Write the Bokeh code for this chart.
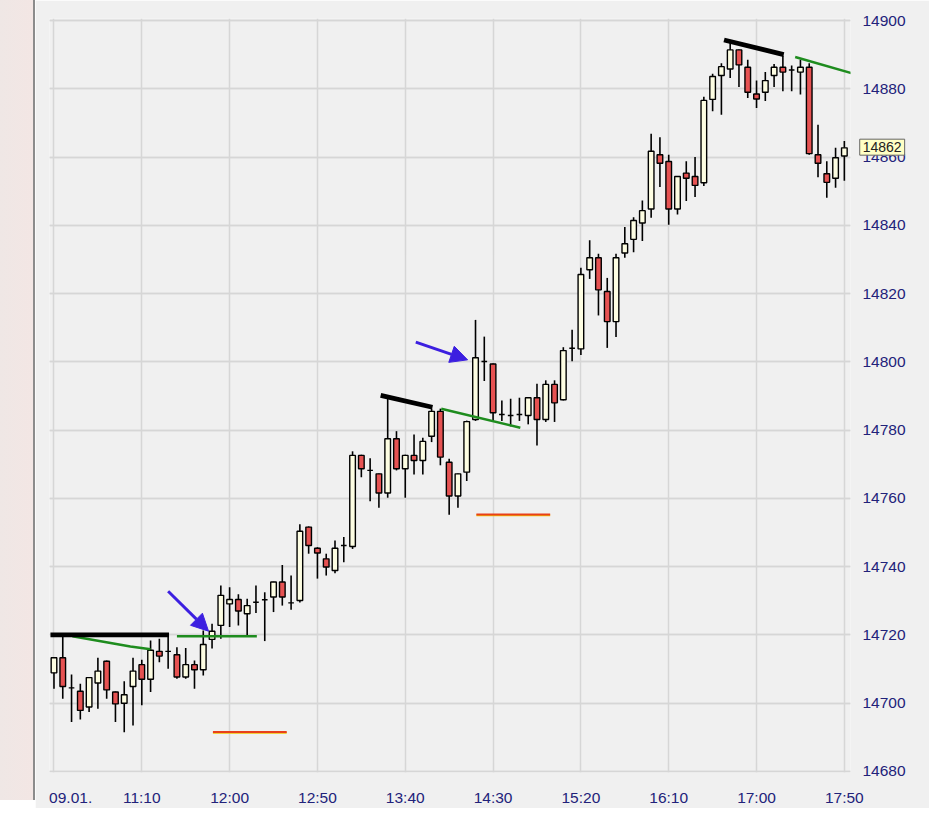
from bokeh.plotting import figure
from bokeh.models import (ColumnDataSource, FixedTicker, LinearAxis, Range1d, Arrow,
                          NormalHead, Label, Spacer, Grid)
from bokeh.layouts import row
from bokeh.embed import file_html
from bokeh.resources import INLINE

# ---- data (5-minute candles) ----
opens = [14708.9, 14713.3, 14704.5, 14703.5, 14698.9, 14705.9, 14712.3, 14703.3, 14700.0, 14704.9,
         14711.3, 14707.0, 14715.2, 14715.2, 14714.2, 14707.7, 14711.3, 14709.8, 14718.7, 14722.8,
         14729.1, 14730.4, 14726.2, 14729.6, 14730.3, 14731.1, 14735.5, 14729.4, 14730.1, 14751.6,
         14745.4, 14742.3, 14738.9, 14746.2, 14745.9, 14772.6, 14768.2, 14767.2, 14761.6, 14777.5,
         14768.7, 14772.6, 14771.1, 14778.2, 14785.5, 14770.6, 14760.7, 14767.7, 14783.1, 14800.1,
         14799.4, 14784.6, 14784.3, 14784.6, 14784.3, 14789.5, 14783.1, 14793.4, 14788.9, 14804.0,
         14803.8, 14827.0, 14830.5, 14820.6, 14811.8, 14831.9, 14835.9, 14840.7, 14844.8, 14860.7,
         14858.7, 14844.8, 14855.3, 14854.3, 14852.5, 14876.9, 14883.9, 14885.8, 14891.4, 14886.3,
         14878.5, 14879.0, 14883.9, 14886.3, 14885.5, 14884.9, 14886.3, 14860.7, 14855.1, 14853.8,
         14860.3]
highs = [14713.5, 14719.4, 14708.4, 14705.7, 14707.7, 14713.3, 14712.5, 14703.4, 14706.4, 14713.3,
         14712.7, 14718.4, 14718.9, 14719.4, 14716.4, 14716.2, 14712.5, 14721.3, 14723.3, 14734.5,
         14734.0, 14731.9, 14730.6, 14734.5, 14732.5, 14735.6, 14740.5, 14737.4, 14752.4, 14751.8,
         14745.7, 14743.8, 14747.7, 14748.7, 14773.8, 14772.8, 14771.8, 14767.3, 14789.2, 14779.7,
         14772.8, 14778.7, 14777.8, 14786.3, 14786.3, 14771.6, 14767.3, 14782.8, 14812.3, 14807.4,
         14799.5, 14788.7, 14789.2, 14789.5, 14789.6, 14793.6, 14794.6, 14794.6, 14804.3, 14809.4,
         14827.6, 14835.6, 14831.7, 14824.6, 14831.7, 14839.5, 14842.4, 14847.3, 14866.8, 14865.8,
         14860.7, 14854.4, 14858.8, 14860.0, 14877.7, 14884.4, 14887.5, 14893.9, 14891.5, 14888.5,
         14882.4, 14884.9, 14887.3, 14889.7, 14886.8, 14888.5, 14887.5, 14869.5, 14858.8, 14862.7,
         14864.7]
lows = [14704.2, 14701.3, 14694.5, 14695.2, 14697.4, 14698.4, 14701.3, 14694.5, 14691.5, 14693.5,
        14699.4, 14703.3, 14712.0, 14710.1, 14707.2, 14707.2, 14704.2, 14708.1, 14716.0, 14718.9,
        14722.3, 14722.8, 14719.9, 14726.4, 14718.2, 14726.7, 14728.6, 14727.4, 14729.5, 14743.8,
        14736.5, 14737.4, 14738.1, 14741.3, 14745.2, 14766.2, 14759.2, 14757.3, 14760.2, 14768.2,
        14760.2, 14767.0, 14767.0, 14776.5, 14769.7, 14755.2, 14757.3, 14765.1, 14782.7, 14794.4,
        14782.7, 14782.7, 14781.1, 14782.7, 14781.7, 14775.5, 14782.4, 14782.4, 14788.7, 14800.2,
        14802.0, 14824.3, 14813.6, 14804.1, 14807.3, 14830.5, 14832.1, 14835.4, 14842.2, 14851.2,
        14840.2, 14843.2, 14847.1, 14848.3, 14851.5, 14873.4, 14872.4, 14883.2, 14880.5, 14877.3,
        14874.4, 14876.4, 14880.5, 14879.3, 14879.3, 14878.3, 14860.7, 14854.1, 14848.1, 14851.0,
        14853.1]
closes = [14713.3, 14704.9, 14704.5, 14697.9, 14707.5, 14709.4, 14703.9, 14699.8, 14702.5, 14709.4,
          14707.0, 14715.5, 14713.8, 14715.2, 14707.7, 14711.3, 14709.8, 14717.2, 14721.1, 14731.6,
          14730.4, 14727.0, 14728.6, 14729.6, 14730.3, 14735.5, 14731.1, 14729.4, 14750.4, 14746.2,
          14744.0, 14739.9, 14745.4, 14746.2, 14772.6, 14768.7, 14768.2, 14761.6, 14777.5, 14768.7,
          14772.6, 14771.1, 14776.7, 14785.5, 14772.1, 14760.7, 14767.2, 14782.5, 14801.2, 14800.1,
          14785.1, 14784.6, 14784.3, 14784.6, 14789.5, 14783.1, 14793.4, 14788.0, 14803.3, 14804.0,
          14825.6, 14830.5, 14821.1, 14811.8, 14830.5, 14834.6, 14841.4, 14844.3, 14861.7, 14858.2,
          14844.8, 14854.3, 14853.8, 14851.7, 14876.6, 14883.6, 14886.5, 14891.4, 14887.0, 14879.0,
          14877.0, 14882.4, 14886.3, 14884.9, 14885.5, 14886.3, 14861.0, 14858.2, 14852.6, 14859.8,
          14862.7]

tick_labels = ["09.01.", "11:10", "12:00", "12:50", "13:40", "14:30", "15:20", "16:10", "17:00", "17:50"]
candles_per_tick = 10
price_ticks = [14680, 14700, 14720, 14740, 14760, 14780, 14800, 14820, 14840, 14860, 14880, 14900]
last_price = "14862"

# drawn annotations (candle index, price)
resistance_x = [[-0.4, 13.1], [37.2, 43.1], [76.3, 83.1]]
resistance_y = [[14720.0, 14720.0], [14790.2, 14786.7], [14894.3, 14890.0]]
trend_x = [[2.1, 8.7, 11.0], [14.0, 23.1], [44.1, 53.1], [84.4, 90.8]]
trend_y = [[14719.6, 14716.6, 14715.8], [14719.6, 14719.6], [14786.3, 14780.7], [14889.3, 14884.6]]
stop_x = [[18.1, 26.5], [48.1, 56.5]]
stop_y = [[14691.6, 14691.6], [14755.3, 14755.3]]
arrow_from = [(13.0, 14732.8), (41.2, 14805.8)]
arrow_to = [(17.6, 14721.1), (47.1, 14800.6)]

# ---- build ----
n = len(opens)
idx = list(range(n))
up = [c >= o for o, c in zip(opens, closes)]
src = ColumnDataSource(dict(
    x=idx, open=opens, high=highs, low=lows, close=closes,
    top=[max(o, c) for o, c in zip(opens, closes)],
    bottom=[min(o, c) for o, c in zip(opens, closes)],
    color=["#fdfde2" if u else "#e65252" for u in up],
))

font = "Liberation Sans"
label_color = "#22227a"
label_size = "15.5px"

p = figure(frame_width=801, frame_height=754, min_border_left=14, min_border_top=18,
           min_border_right=79, min_border_bottom=28,
           x_range=Range1d(-0.51, 90.7), y_range=Range1d(14679.7, 14900.6),
           output_backend="svg", toolbar_location=None, y_axis_location=None)
p.background_fill_color = "#f0f0f0"
p.border_fill_color = "#f0f0f0"
p.outline_line_color = None

yaxis = LinearAxis(ticker=FixedTicker(ticks=price_ticks))
p.add_layout(yaxis, "right")

for ax in [p.xaxis[0], yaxis]:
    ax.axis_line_color = None
    ax.major_tick_line_color = None
    ax.minor_tick_line_color = None
    ax.major_tick_out = 0
    ax.major_tick_in = 0
    ax.major_label_text_font = font
    ax.major_label_text_font_size = label_size
    ax.major_label_text_color = label_color

# gridlines every 10 candles; the first (date) label sits a little right of its gridline
grid_ticks = [i * candles_per_tick for i in range(len(tick_labels))]
date_label_shift = 1.9
label_ticks = [grid_ticks[0] + date_label_shift] + grid_ticks[1:]
p.xaxis[0].ticker = FixedTicker(ticks=label_ticks)
p.xaxis[0].major_label_overrides = {t: lab for t, lab in zip(label_ticks, tick_labels)}
p.xaxis[0].major_label_standoff = 16
yaxis.major_label_standoff = 12

p.xgrid.ticker = FixedTicker(ticks=grid_ticks)
p.ygrid.ticker = yaxis.ticker
for g in [p.xgrid[0], p.ygrid[0]]:
    g.grid_line_color = "#d6d6d6"
    g.grid_line_width = 1.5
p.add_layout(Grid(dimension=1, ticker=yaxis.ticker, grid_line_color="#d6d6d6", grid_line_width=1.5))

p.segment("x", "high", "x", "low", source=src, line_color="black", line_width=1.6)
p.vbar(x="x", top="top", bottom="bottom", width=0.64, source=src,
       fill_color="color", line_color="black", line_width=1.4)

for xs, ys in zip(trend_x, trend_y):
    p.line(xs, ys, line_color="#1e8c1e", line_width=2.6)
for xs, ys in zip(resistance_x, resistance_y):
    p.line(xs, ys, line_color="black", line_width=4.8)
for xs, ys in zip(stop_x, stop_y):
    p.line(xs, [y - 0.25 for y in ys], line_color="#f2c400", line_width=2)
    p.line(xs, ys, line_color="#e8401a", line_width=2)

for (x0, y0), (x1, y1) in zip(arrow_from, arrow_to):
    p.add_layout(Arrow(end=NormalHead(size=17, fill_color="#3c1fe0", line_color="#3c1fe0"),
                       x_start=x0, y_start=y0, x_end=x1, y_end=y1,
                       line_color="#3c1fe0", line_width=3))

# last-price tag just right of the plot frame (side panel so it is not clipped to the frame)
price_label = Label(x=91.75, y=closes[-1] + 0.2, x_units="data", y_units="data", text=last_price,
                    text_font=font, text_font_size="14px", text_color="#222222",
                    text_baseline="middle", text_align="left", background_fill_color="#ffffc4",
                    border_line_color="#666666", padding=3)
p.add_layout(price_label, "above")

left = Spacer(width=35, height=800,
              styles={"background": "linear-gradient(to right, #efe7e5, #f3e6e4)",
                      "border-right": "2px solid #8c8c8c", "box-sizing": "border-box"})
layout = row(left, p)

open("out.html", "w").write(file_html(layout, INLINE))
